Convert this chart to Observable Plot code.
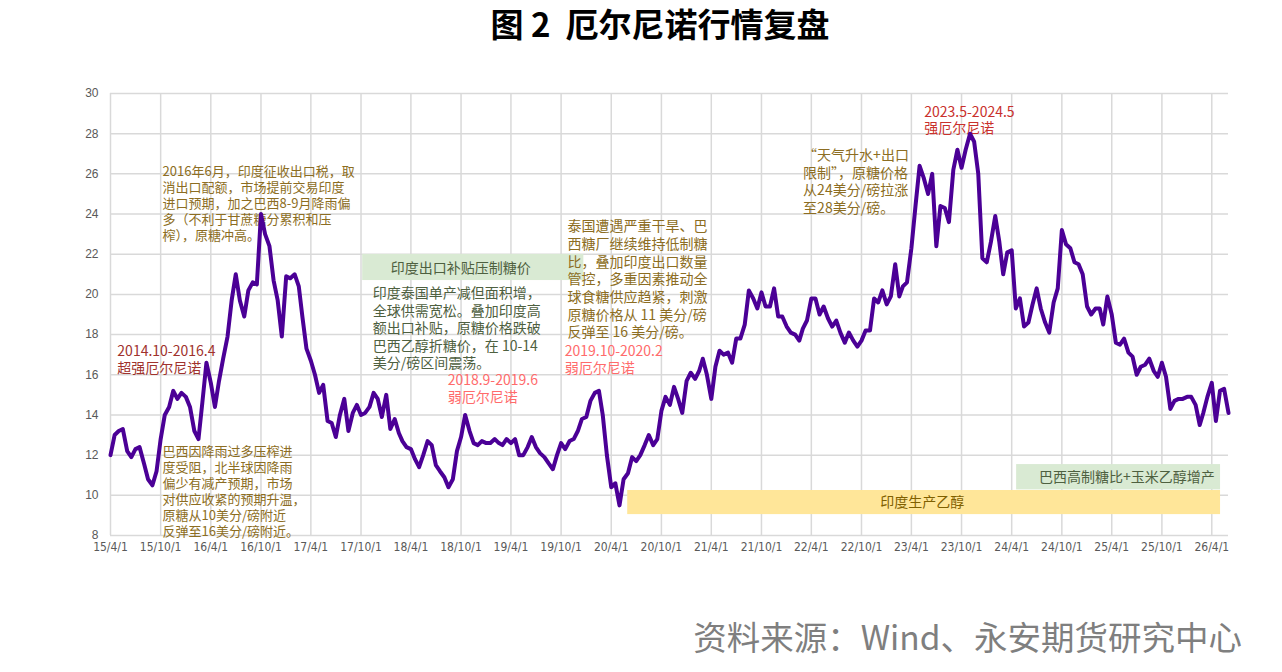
<!DOCTYPE html>
<html><head><meta charset="utf-8">
<script src="https://cdn.jsdelivr.net/npm/d3@7"></script>
<script src="https://cdn.jsdelivr.net/npm/@observablehq/plot@0.6"></script>
<style>
body{margin:0;background:#fff;width:1282px;height:672px;position:relative;overflow:hidden;font-family:"Noto Sans CJK SC",sans-serif;}
#title{position:absolute;top:0px;left:0;width:1320px;text-align:center;font-size:33px;font-weight:bold;white-space:pre;color:#000;line-height:46px}
#chart{position:absolute;top:60px;left:0}
#caption{position:absolute;right:40px;top:617px;font-size:33.5px;color:#7f7f7f;line-height:38px;white-space:nowrap}
</style></head><body>
<div id="title">图 2  厄尔尼诺行情复盘</div>
<div id="chart"></div>
<div id="caption">资料来源：Wind、永安期货研究中心</div>
<script>
// semi-monthly samples (1st and 16th of each month) starting April 2015, US cents/lb
const startMonth = "2015-04-01";
const prices = [
12.0,13.0,13.2,13.3,12.2,11.9,12.3,12.4,11.6,10.8,10.5,11.2,12.8,14.0,14.4,15.2,14.8,15.1,14.9,14.4,
13.2,12.8,14.6,16.6,15.6,14.4,15.7,16.8,17.9,19.7,21.0,19.7,18.9,20.2,20.6,20.5,24.0,23.0,22.4,20.7,
19.7,17.9,20.9,20.8,21.0,20.4,18.9,17.3,16.7,16.0,15.1,15.5,13.7,13.6,12.9,14.0,14.8,13.2,14.1,14.5,
14.0,14.1,14.4,15.1,14.8,13.9,15.0,13.3,13.8,13.1,12.7,12.4,12.3,11.8,11.4,12.0,12.7,12.5,11.5,11.2,
10.9,10.4,10.8,12.2,12.9,14.0,13.2,12.6,12.5,12.7,12.6,12.6,12.8,12.6,12.5,12.8,12.6,12.8,12.0,12.0,
12.4,12.9,12.4,12.1,11.9,11.6,11.3,12.0,12.6,12.3,12.7,12.8,13.2,13.8,13.9,14.7,15.1,15.2,14.0,12.0,
10.4,10.6,9.5,10.8,11.1,11.9,11.7,12.0,12.5,13.0,12.5,12.8,14.2,14.9,14.5,15.4,14.8,14.1,15.7,16.1,
15.8,16.2,16.8,16.0,14.8,16.4,17.2,17.0,17.1,16.6,17.8,17.8,18.5,20.2,19.8,19.3,20.1,19.4,19.4,20.3,
18.9,18.9,18.4,18.1,18.0,17.7,18.3,18.7,19.8,19.8,19.0,19.4,18.8,18.4,18.7,18.1,17.6,18.1,17.7,17.4,
17.7,18.2,18.2,19.8,19.6,20.2,19.5,19.9,21.5,19.9,20.4,20.6,22.3,24.4,26.4,25.8,25.0,26.0,22.4,24.4,
24.3,23.6,26.2,27.2,26.3,27.2,28.0,27.6,26.0,21.8,21.6,22.6,23.9,22.6,21.0,22.1,22.2,19.3,19.8,18.4,
18.6,19.5,20.3,19.3,18.6,18.1,19.6,20.3,23.2,22.5,22.3,21.6,21.5,21.0,19.4,19.0,19.3,19.3,18.5,19.9,
19.0,17.6,17.5,17.8,17.1,16.9,16.0,16.4,16.5,16.8,16.2,15.9,16.6,15.9,14.3,14.7,14.8,14.8,14.9,14.9,
14.5,13.5,14.1,14.9,15.6,13.7,15.2,15.3,14.1
];
const tickLabels = ["15/4/1","15/10/1","16/4/1","16/10/1","17/4/1","17/10/1","18/4/1","18/10/1","19/4/1","19/10/1",
"20/4/1","20/10/1","21/4/1","21/10/1","22/4/1","22/10/1","23/4/1","23/10/1","24/4/1","24/10/1","25/4/1","25/10/1","26/4/1"];
const yTicks = [8,10,12,14,16,18,20,22,24,26,28,30];
const xDomain = ["2015-04-01","2026-06-01"];

const notes = [
  {text:"2016年6月，印度征收出口税，取\n消出口配额，市场提前交易印度\n进口预期，加之巴西8-9月降雨偏\n多（不利于甘蔗糖分累积和压\n榨），原糖冲高。", date:"2015-10-08", value:26.48, color:"#8c6d22", size:13, lh:1.23},
  {text:"巴西因降雨过多压榨进\n度受阻，北半球因降雨\n偏少有减产预期，市场\n对供应收紧的预期升温，\n原糖从10美分/磅附近\n反弹至16美分/磅附近。", date:"2015-10-08", value:12.54, color:"#8c6d22", size:13, lh:1.23},
  {text:"2014.10-2016.4\n超强厄尔尼诺", date:"2015-04-26", value:17.51, color:"#a0322d", size:14, lh:1.18},
  {text:"印度泰国单产减但面积增，\n全球供需宽松。叠加印度高\n额出口补贴，原糖价格跌破\n巴西乙醇折糖价，在 10-14\n美分/磅区间震荡。", date:"2017-11-13", value:20.42, color:"#4e6040", size:14, lh:1.25},
  {text:"2018.9-2019.6\n弱厄尔尼诺", date:"2018-08-13", value:16.11, color:"#ff6b6b", size:14, lh:1.23},
  {text:"泰国遭遇严重干旱、巴\n西糖厂继续维持低制糖\n比，叠加印度出口数量\n管控，多重因素推动全\n球食糖供应趋紧，刺激\n原糖价格从 11 美分/磅\n反弹至 16 美分/磅。", date:"2019-10-24", value:23.76, color:"#8c6d22", size:14, lh:1.26},
  {text:"2019.10-2020.2\n弱厄尔尼诺", date:"2019-10-14", value:17.51, color:"#ff6b6b", size:14, lh:1.18},
  {text:"“天气升水+出口\n限制”，原糖价格\n从24美分/磅拉涨\n至28美分/磅。", date:"2022-03-02", value:27.31, color:"#8c6d22", size:14, lh:1.26},
  {text:"2023.5-2024.5\n强厄尔尼诺", date:"2023-05-18", value:29.42, color:"#c9302c", size:14, lh:1.16}
];
const boxes = [
  {label:"印度出口补贴压制糖价", x1:"2017-10-07", x2:"2019-12-23", y1:20.69, y2:21.99, cx:"2018-09-30", cy:21.31, fill:"#d9ead3", color:"#4e6040"},
  {label:"巴西高制糖比+玉米乙醇增产", x1:"2024-04-19", x2:"2026-05-03", y1:10.27, y2:11.53, cx:"2025-05-26", cy:10.89, fill:"#d9ead3", color:"#4e6040"},
  {label:"印度生产乙醇", x1:"2020-05-31", x2:"2026-05-03", y1:9.04, y2:10.24, cx:"2023-05-11", cy:9.64, fill:"#ffe699", color:"#7f6000"}
];

const parseISO = d3.utcParse("%Y-%m-%d");
const start = parseISO(startMonth);
const series = prices.map((v, k) => {
  const m = d3.utcMonth.offset(start, Math.floor(k / 2));
  return {date: k % 2 ? d3.utcDay.offset(m, 15) : m, value: v};
});
const tickDates = tickLabels.map(s => {
  const [yy, mm, dd] = s.split("/").map(Number);
  return new Date(Date.UTC(2000 + yy, mm - 1, dd));
});
const labelOf = new Map(tickDates.map((d, i) => [+d, tickLabels[i]]));
const boxData = boxes.map(b => ({...b, x1: parseISO(b.x1), x2: parseISO(b.x2), cx: parseISO(b.cx)}));

const cjk = "'Noto Sans CJK SC', sans-serif";
const marks = [
  Plot.gridY(yTicks, {stroke:"#d9d9d9", strokeOpacity:1, strokeWidth:1.5}),
  Plot.gridX(tickDates, {stroke:"#d9d9d9", strokeOpacity:1, strokeWidth:1.5}),
  Plot.axisY(yTicks, {tickSize:0, tickPadding:12, fontSize:12, fill:"#595959", fontFamily:"'Liberation Sans', Arial, sans-serif"}),
  Plot.axisX(tickDates, {tickSize:0, tickPadding:7, fontSize:12, fill:"#595959", tickFormat: d => labelOf.get(+d),
    fontFamily:"'Liberation Sans Narrow','DejaVu Sans Condensed','Arial Narrow',sans-serif"}),
  Plot.rect(boxData, {x1:"x1", x2:"x2", y1:"y1", y2:"y2", fill:"fill"}),
  ...boxData.map(b => Plot.text([b], {x:"cx", y:"cy", text:"label", fill:b.color, fontSize:14, fontFamily:cjk, textAnchor:"middle", lineAnchor:"middle"})),
  ...notes.map(n => Plot.text([n], {x: d => parseISO(d.date), y:"value", text:"text", fill:n.color, fontSize:n.size,
    lineHeight:n.lh, fontFamily:cjk, textAnchor:"start", lineAnchor:"top"})),
  Plot.line(series, {x:"date", y:"value", stroke:"#4b0096", strokeWidth:4, strokeLinejoin:"round", strokeLinecap:"round"})
];

const chart = Plot.plot({
  width: 1282,
  height: 520,
  marginLeft: 110,
  marginRight: 54,
  marginTop: 33,
  marginBottom: 45,
  style: {background:"#fff", overflow:"visible"},
  x: {type:"utc", domain: xDomain.map(parseISO)},
  y: {domain:[8,30]},
  marks
});
document.getElementById("chart").appendChild(chart);
</script>
</body></html>
